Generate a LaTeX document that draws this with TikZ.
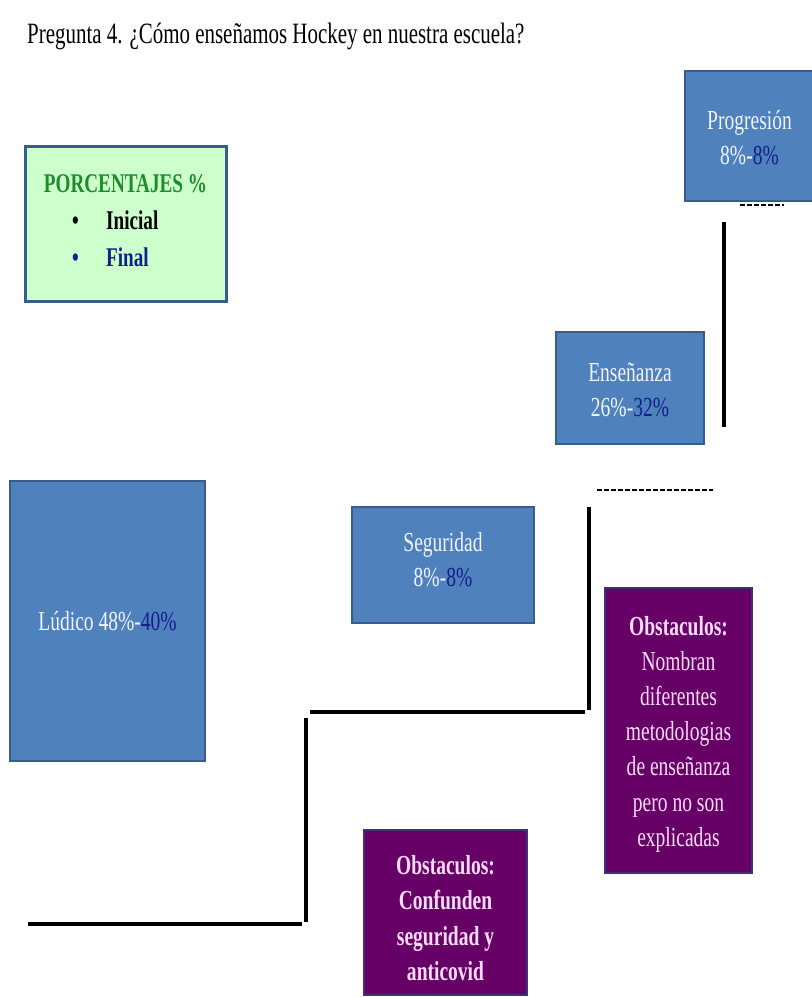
\documentclass[tikz,border=0pt]{standalone}
\usepackage{fontspec}
\setmainfont[FakeStretch=0.71]{Liberation Serif}
\definecolor{boxblue}{RGB}{79,129,189}
\definecolor{boxedge}{RGB}{56,93,138}
\definecolor{purp}{RGB}{102,0,102}
\definecolor{purpedge}{RGB}{60,50,120}
\definecolor{lgreen}{RGB}{204,255,204}
\definecolor{dgreen}{RGB}{30,140,40}
\definecolor{navy}{RGB}{20,30,140}
\definecolor{pinktext}{RGB}{255,220,255}
\definecolor{lighttext}{RGB}{240,244,255}
\tikzset{
  bluebox/.style={draw=boxedge, fill=boxblue, line width=2.5pt, inner sep=0pt},
  purpbox/.style={draw=purpedge, fill=purp, line width=2.5pt, inner sep=0pt},
  bluetext/.style={text=lighttext, align=center, inner sep=0pt, font=\fontsize{27.5}{35}\selectfont},
  purptext/.style={text=pinktext, align=center, inner sep=0pt, font=\fontsize{27.5}{35.2}\selectfont},
  legendbox/.style={draw=boxedge, fill=lgreen, line width=3pt, inner sep=0pt},
  legtext/.style={font=\fontsize{27}{30}\selectfont\bfseries, inner sep=0pt, anchor=base west},
  solidline/.style={line width=3.8pt, black},
  dashline/.style={line width=2pt, black, dash pattern=on 5pt off 2pt}
}
\begin{document}
\begin{tikzpicture}[x=1pt,y=-1pt]
\useasboundingbox (0,0) rectangle (812,997);
\fill[white] (0,0) rectangle (812,997);

% title
\node[inner sep=0pt, anchor=base west, font=\fontsize{29.5}{32}\selectfont] (title) at (27,43)
  {Pregunta 4. ¿Cómo enseñamos Hockey en nuestra escuela?};

% legend
\node[legendbox, minimum width=201pt, minimum height=155pt] (legend) at (125.5,223.5) {};
\node[legtext, text=dgreen, anchor=base] (legtitle) at (125.5,192) {PORCENTAJES \%};
\node[legtext, text=black] (bul1) at (72,229) {•};
\node[legtext, text=black] (leg1) at (106,229) {Inicial};
\node[legtext, text=navy] (bul2) at (72,266) {•};
\node[legtext, text=navy] (leg2) at (106,266) {Final};

% blue boxes
\node[bluebox, minimum width=129pt, minimum height=130pt] (prog) at (749.5,136) {};
\node[bluetext] (progt) at (749.5,138) {Progresión\\8\%-\textcolor{navy}{8\%}};
\node[bluebox, minimum width=148pt, minimum height=112pt] (ens) at (630,388) {};
\node[bluetext] (enst) at (630,390) {Enseñanza\\26\%-\textcolor{navy}{32\%}};
\node[bluebox, minimum width=182pt, minimum height=116pt] (seg) at (443,565) {};
\node[bluetext] (segt) at (443,560) {Seguridad\\8\%-\textcolor{navy}{8\%}};
\node[bluebox, minimum width=195pt, minimum height=280pt] (lud) at (107.5,621) {};
\node[bluetext] (ludt) at (107.5,621) {Lúdico 48\%-\textcolor{navy}{40\%}};

% purple boxes
\node[purpbox, minimum width=147pt, minimum height=285pt] (obs1) at (678.5,730.5) {};
\node[purptext] (obs1t) at (678.5,734)
  {\textbf{Obstaculos:}\\Nombran\\diferentes\\metodologias\\de enseñanza\\pero no son\\explicadas};
\node[purpbox, minimum width=163pt, minimum height=165pt] (obs2) at (445.5,912.5) {};
\node[purptext, font=\fontsize{27.5}{35.2}\selectfont\bfseries] (obs2t) at (445.5,918)
  {Obstaculos:\\Confunden\\seguridad y\\anticovid};

% lines (free-standing)
\coordinate (d1a) at (740,205); \coordinate (d1b) at (784,205);
\coordinate (v1a) at (724,222); \coordinate (v1b) at (724,427);
\coordinate (d2a) at (597,490); \coordinate (d2b) at (713,490);
\coordinate (v2a) at (589,507); \coordinate (v2b) at (589,710);
\coordinate (h1a) at (310,712); \coordinate (h1b) at (585,712);
\coordinate (v3a) at (306,718); \coordinate (v3b) at (306,922);
\coordinate (h2a) at (28,924);  \coordinate (h2b) at (302,924);

\draw[dashline] (d1a) -- (d1b);
\draw[solidline] (v1a) -- (v1b);
\draw[dashline] (d2a) -- (d2b);
\draw[solidline] (v2a) -- (v2b);
\draw[solidline] (h1a) -- (h1b);
\draw[solidline] (v3a) -- (v3b);
\draw[solidline] (h2a) -- (h2b);
\end{tikzpicture}
\end{document}
